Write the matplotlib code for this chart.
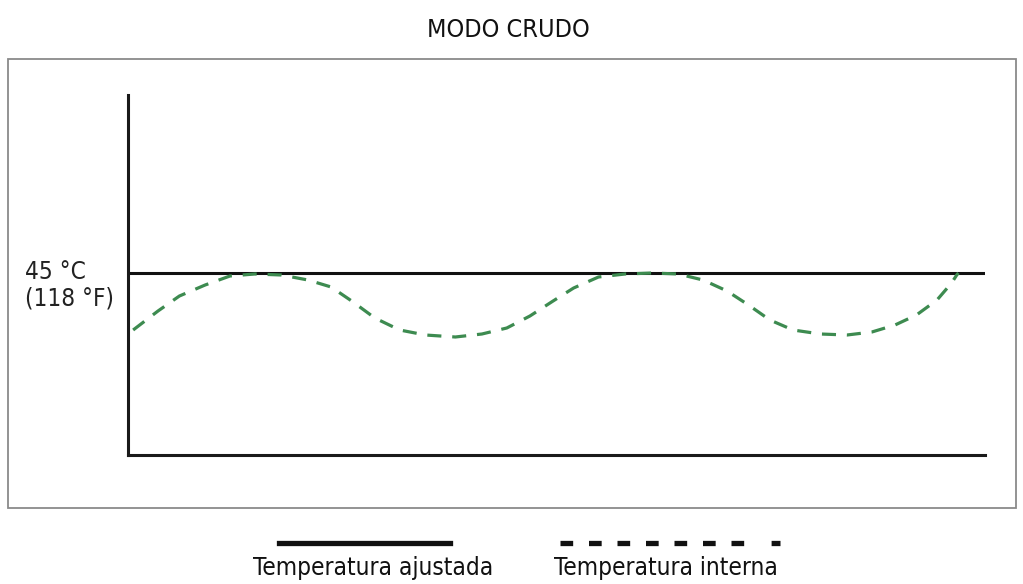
import matplotlib.pyplot as plt
from matplotlib.lines import Line2D
from matplotlib.patches import Rectangle

plt.rcParams['font.family'] = ['DejaVu Sans']
plt.rcParams['font.stretch'] = 'condensed'

title = "MODO CRUDO"
setpoint_label = "45 °C\n(118 °F)"
legend_labels = ["Temperatura ajustada", "Temperatura interna"]

# time in arbitrary units (0..100), temperature in °C
setpoint = 45.0
time = [0.6, 3.5, 6.0, 9.0, 11.9, 14.8, 17.9, 21.0, 23.7, 26.1, 28.8,
        31.7, 34.7, 38.2, 41.3, 44.2, 46.9, 49.6, 52.0, 54.9, 58.0, 61.1,
        64.2, 67.1, 69.9, 72.4, 74.9, 77.6, 80.8, 83.9, 86.8, 89.5, 92.0,
        94.4, 96.1, 96.7, 96.9]
temp = [39.3, 41.2, 42.7, 43.8, 44.7, 44.9, 44.8, 44.3, 43.6, 42.2,
        40.5, 39.3, 38.8, 38.6, 38.9, 39.5, 40.7, 42.2, 43.5, 44.6, 44.9,
        45.0, 44.9, 44.3, 43.2, 41.8, 40.3, 39.3, 38.9, 38.8, 39.1, 39.8,
        40.8, 42.3, 44.0, 44.8, 45.0]

W, H = 1023, 584
fig = plt.figure(figsize=(W / 100, H / 100), dpi=100)

# outer frame
fig.patches.append(Rectangle((8 / W, 1 - 508 / H), 1008 / W, 449 / H,
                             transform=fig.transFigure, fill=False,
                             edgecolor='#8a8a8a', linewidth=1.3))

ax = fig.add_axes([128 / W, 1 - 455 / H, 857 / W, 360 / H])
ax.set_xlim(0, 100)
ax.set_ylim(26.8, 62.8)
for s in ['top', 'right']:
    ax.spines[s].set_visible(False)
for s in ['left', 'bottom']:
    ax.spines[s].set_linewidth(2.2)
    ax.spines[s].set_color('#1a1a1a')
ax.set_xticks([])
ax.set_yticks([])
ax.patch.set_alpha(0)

ax.axhline(setpoint, color='#111111', linewidth=2.2)
ax.plot(time, temp, color='#3d8b50', linewidth=2.3, dashes=(4.4, 3.4))

ax.text(-103 / 857, setpoint + 1.3, setpoint_label,
        transform=ax.get_yaxis_transform(), ha='left', va='top',
        fontsize=17.5, color='#222222', linespacing=1.15)

fig.text(508 / W, 1 - 30 / H, title, ha='center', va='center', fontsize=18,
         color='#111111')

# legend
fig.lines.append(Line2D([279 / W, 450 / W], [1 - 543 / H] * 2,
                        transform=fig.transFigure, color='#111111',
                        linewidth=3.8))
fig.lines.append(Line2D([560 / W, 780 / W], [1 - 543 / H] * 2,
                        transform=fig.transFigure, color='#111111',
                        linewidth=3.8,
                        dashes=[2.4, 3.0] * 6 + [2.4, 5.2, 2.4, 3.0]))
fig.text(373 / W, 1 - 568 / H, legend_labels[0], ha='center', va='center',
         fontsize=17.5, color='#111111')
fig.text(666 / W, 1 - 568 / H, legend_labels[1], ha='center', va='center',
         fontsize=17.5, color='#111111')

fig.savefig("out.png", dpi=100)
